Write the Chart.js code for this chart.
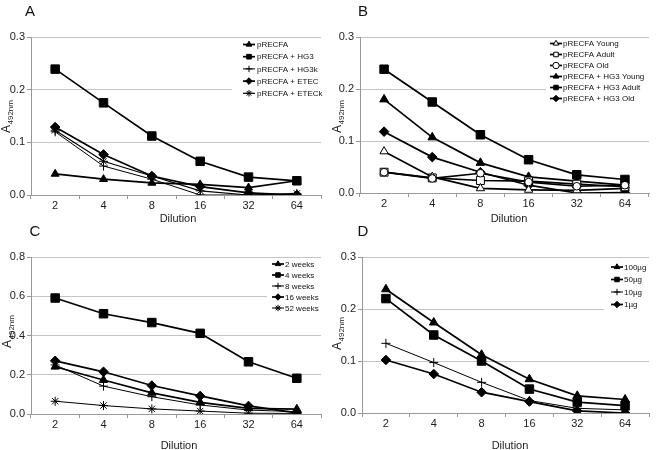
<!DOCTYPE html>
<html><head><meta charset="utf-8">
<script src="https://cdn.jsdelivr.net/npm/chart.js@4/dist/chart.umd.min.js"></script>
<style>
html,body{margin:0;padding:0;background:#fff;}
#wrap{position:relative;width:656px;height:450px;overflow:hidden;background:#fff;}
.pan{position:absolute;width:328px;height:225px;}
canvas{display:block;}
</style></head><body>
<div id="wrap">
<div class="pan" style="left:0;top:0"><canvas id="cA" width="328" height="225"></canvas></div>
<div class="pan" style="left:328px;top:0"><canvas id="cB" width="328" height="225"></canvas></div>
<div class="pan" style="left:0;top:225px"><canvas id="cC" width="328" height="225"></canvas></div>
<div class="pan" style="left:328px;top:225px"><canvas id="cD" width="328" height="225"></canvas></div>
</div>
<script>
// ---------- data ----------
const dilutions = ['2', '4', '8', '16', '32', '64'];

// Panel A
const aPRECFA = [0.040, 0.030, 0.023, 0.020, 0.014, 0.027];
const aHG3    = [0.239, 0.175, 0.112, 0.064, 0.034, 0.027];
const aHG3k   = [0.120, 0.055, 0.030, 0.000, 0.000, 0.000];
const aETEC   = [0.129, 0.077, 0.036, 0.016, 0.004, 0.000];
const aETECk  = [0.123, 0.064, 0.036, 0.008, 0.000, 0.003];

// Panel B
const bYoung     = [0.080, 0.031, 0.009, 0.006, 0.005, 0.009];
const bAdult     = [0.040, 0.029, 0.024, 0.023, 0.017, 0.012];
const bOld       = [0.040, 0.028, 0.038, 0.021, 0.013, 0.015];
const bHG3Young  = [0.180, 0.107, 0.058, 0.031, 0.023, 0.015];
const bHG3Adult  = [0.238, 0.175, 0.112, 0.064, 0.035, 0.026];
const bHG3Old    = [0.118, 0.069, 0.040, 0.015, 0.000, 0.001];

// Panel C
const c2w  = [0.241, 0.173, 0.108, 0.059, 0.029, 0.025];
const c4w  = [0.591, 0.511, 0.466, 0.411, 0.266, 0.182];
const c8w  = [0.250, 0.142, 0.088, 0.046, 0.020, 0.012];
const c16w = [0.271, 0.215, 0.145, 0.092, 0.041, 0.006];
const c52w = [0.065, 0.043, 0.026, 0.015, 0.004, 0.003];

// Panel D
const d100 = [0.238, 0.174, 0.112, 0.065, 0.033, 0.026];
const d50  = [0.220, 0.150, 0.100, 0.046, 0.021, 0.014];
const d10  = [0.134, 0.097, 0.059, 0.024, 0.009, 0.006];
const d1   = [0.102, 0.075, 0.040, 0.022, 0.004, 0.000];

// ---------- helpers ----------
const FONT = "'Liberation Sans', Arial, sans-serif";
const W = 328, H = 225;

function marker(ctx, style, r, x, y, fill) {
  ctx.save();
  ctx.beginPath();
  let doFill = true;
  if (style === 'triangle') {
    for (let i = 0; i < 3; i++) {
      const a = -Math.PI / 2 + i * 2 * Math.PI / 3;
      const px = x + r * Math.cos(a), py = y + r * Math.sin(a);
      i ? ctx.lineTo(px, py) : ctx.moveTo(px, py);
    }
    ctx.closePath();
  } else if (style === 'rect') {
    const s = r * Math.SQRT1_2;
    ctx.rect(x - s, y - s, 2 * s, 2 * s);
  } else if (style === 'rectRot') {
    ctx.moveTo(x, y - r); ctx.lineTo(x + r, y); ctx.lineTo(x, y + r); ctx.lineTo(x - r, y); ctx.closePath();
  } else if (style === 'circle') {
    ctx.arc(x, y, r, 0, Math.PI * 2);
  } else if (style === 'cross') {
    ctx.moveTo(x - r, y); ctx.lineTo(x + r, y); ctx.moveTo(x, y - r); ctx.lineTo(x, y + r); doFill = false;
  } else if (style === 'star') {
    ctx.moveTo(x - r, y); ctx.lineTo(x + r, y); ctx.moveTo(x, y - r); ctx.lineTo(x, y + r);
    const d = r * Math.SQRT1_2;
    ctx.moveTo(x - d, y - d); ctx.lineTo(x + d, y + d); ctx.moveTo(x - d, y + d); ctx.lineTo(x + d, y - d);
    doFill = false;
  }
  if (doFill) { ctx.fillStyle = fill; ctx.fill(); }
  ctx.strokeStyle = '#000'; ctx.lineWidth = 1; ctx.stroke();
  ctx.restore();
}

function ds(label, data, style, radius, fill, lw, order) {
  return {
    label, data,
    borderColor: '#000', borderWidth: lw || 1.7,
    pointStyle: style, pointRadius: radius, pointHoverRadius: radius,
    pointBackgroundColor: fill, pointBorderColor: '#000', pointBorderWidth: 1,
    tension: 0, fill: false, order: order || 0
  };
}

function makePanel(id, cfg) {
  const area = cfg.area; // left, top, right, bottom
  const panelPlugin = {
    id: 'panelDeco' + id,
    beforeDatasetsDraw(chart) {
      const ctx = chart.ctx, L = cfg.legend;
      ctx.save();
      ctx.fillStyle = '#fff';
      ctx.fillRect(L.box[0], L.box[1], L.box[2] - L.box[0], L.box[3] - L.box[1]);
      ctx.restore();
    },
    afterDatasetsDraw(chart) {
      const ctx = chart.ctx, L = cfg.legend;
      ctx.save();
      chart.data.datasets.forEach((d, i) => {
        const y = L.y0 + i * L.dy;
        ctx.beginPath();
        ctx.moveTo(L.mx - 6, y); ctx.lineTo(L.mx + 6, y);
        ctx.strokeStyle = '#000'; ctx.lineWidth = d.borderWidth; ctx.stroke();
        marker(ctx, d.pointStyle, L.r, L.mx, y, d.pointBackgroundColor);
        ctx.fillStyle = '#111';
        ctx.font = '8px ' + FONT;
        ctx.textAlign = 'left'; ctx.textBaseline = 'middle';
        ctx.fillText(d.label, L.tx, y + 0.5);
      });
      // panel letter
      ctx.fillStyle = '#111';
      ctx.font = '15px ' + FONT;
      ctx.textAlign = 'center'; ctx.textBaseline = 'middle';
      ctx.fillText(cfg.letter[0], cfg.letter[1], cfg.letter[2]);
      // x title
      ctx.font = '11px ' + FONT;
      ctx.fillStyle = '#222';
      ctx.fillText('Dilution', cfg.xt[0], cfg.xt[1]);
      // y title A492nm (rotated)
      ctx.save();
      ctx.translate(cfg.yt[0], cfg.yt[1]);
      ctx.rotate(-Math.PI / 2);
      ctx.textAlign = 'left'; ctx.textBaseline = 'alphabetic';
      ctx.font = '12px ' + FONT;
      ctx.fillText('A', 0, 0);
      const wA = ctx.measureText('A').width;
      ctx.font = '8px ' + FONT;
      ctx.fillText('492nm', wA + 0.5, 2.5);
      ctx.restore();
      ctx.restore();
    }
  };
  return new Chart(document.getElementById(id), {
    type: 'line',
    data: { labels: dilutions, datasets: cfg.datasets },
    options: {
      responsive: false, animation: false, devicePixelRatio: 1,
      layout: { padding: { left: 0, top: area.top, right: W - area.right, bottom: 0 } },
      plugins: { legend: { display: false }, tooltip: { enabled: false }, title: { display: false } },
      scales: {
        x: {
          type: 'category', offset: true,
          afterFit(s) { s.height = H - area.bottom; },
          grid: { display: true, drawOnChartArea: false, drawTicks: true, tickLength: 4, offset: true, tickColor: '#999' },
          border: { display: true, color: '#999', width: 1 },
          ticks: { font: { family: FONT, size: 11 }, color: '#222', padding: 0, maxRotation: 0, autoSkip: false }
        },
        y: {
          min: 0, max: cfg.yMax,
          afterFit(s) { s.width = area.left; },
          ticks: { stepSize: cfg.yStep, font: { family: FONT, size: 11 }, color: '#222', padding: 2,
                   callback: v => Number(v).toFixed(1) },
          grid: { color: '#c4c4c4', tickLength: 4, tickColor: '#999', lineWidth: 1 },
          border: { display: true, color: '#999', width: 1 }
        }
      }
    },
    plugins: [panelPlugin]
  });
}

makePanel('cA', {
  area: { left: 31, top: 37, right: 325, bottom: 195 },
  yMax: 0.3, yStep: 0.1,
  letter: ['A', 30, 12], xt: [178, 219], yt: [10, 133],
  legend: { box: [232, 38, 328, 100], y0: 44.5, dy: 12.2, mx: 249, tx: 257, r: 3.3 },
  datasets: [
    ds('pRECFA', aPRECFA, 'triangle', 4.6, '#000'),
    ds('pRECFA + HG3', aHG3, 'rect', 6, '#000'),
    ds('pRECFA + HG3k', aHG3k, 'cross', 4.5, '#000', 1),
    ds('pRECFA + ETEC', aETEC, 'rectRot', 4.8, '#000'),
    ds('pRECFA + ETECk', aETECk, 'star', 4.5, '#000', 1.2)
  ]
});

makePanel('cB', {
  area: { left: 32, top: 37, right: 328, bottom: 193 },
  yMax: 0.3, yStep: 0.1,
  letter: ['B', 35, 12], xt: [181, 219], yt: [13, 133],
  legend: { box: [218, 38, 328, 104], y0: 43.5, dy: 11, mx: 228, tx: 235, r: 3.2 },
  datasets: [
    ds('pRECFA Young', bYoung, 'triangle', 4.8, '#fff'),
    ds('pRECFA Adult', bAdult, 'rect', 5.6, '#fff'),
    ds('pRECFA Old', bOld, 'circle', 3.8, '#fff', 1.7, -1),
    ds('pRECFA + HG3 Young', bHG3Young, 'triangle', 5, '#000'),
    ds('pRECFA + HG3 Adult', bHG3Adult, 'rect', 6, '#000'),
    ds('pRECFA + HG3 Old', bHG3Old, 'rectRot', 4.8, '#000')
  ]
});

makePanel('cC', {
  area: { left: 31, top: 32, right: 327, bottom: 189 },
  yMax: 0.8, yStep: 0.2,
  letter: ['C', 35, 7], xt: [179, 221], yt: [11, 123],
  legend: { box: [267, 33, 328, 92], y0: 39, dy: 11, mx: 278, tx: 285, r: 3.2 },
  datasets: [
    ds('2 weeks', c2w, 'triangle', 4.8, '#000'),
    ds('4 weeks', c4w, 'rect', 6, '#000'),
    ds('8 weeks', c8w, 'cross', 4.5, '#000', 1),
    ds('16 weeks', c16w, 'rectRot', 4.8, '#000'),
    ds('52 weeks', c52w, 'star', 4.5, '#000', 1)
  ]
});

makePanel('cD', {
  area: { left: 34, top: 32, right: 328, bottom: 188 },
  yMax: 0.3, yStep: 0.1,
  letter: ['D', 35, 7], xt: [182, 221], yt: [13, 125],
  legend: { box: [276, 33, 328, 88], y0: 42, dy: 12.5, mx: 289, tx: 296, r: 3.2 },
  datasets: [
    ds('100µg', d100, 'triangle', 5, '#000'),
    ds('50µg', d50, 'rect', 6, '#000'),
    ds('10µg', d10, 'cross', 4.5, '#000', 1),
    ds('1µg', d1, 'rectRot', 4.8, '#000')
  ]
});
</script>
</body></html>
